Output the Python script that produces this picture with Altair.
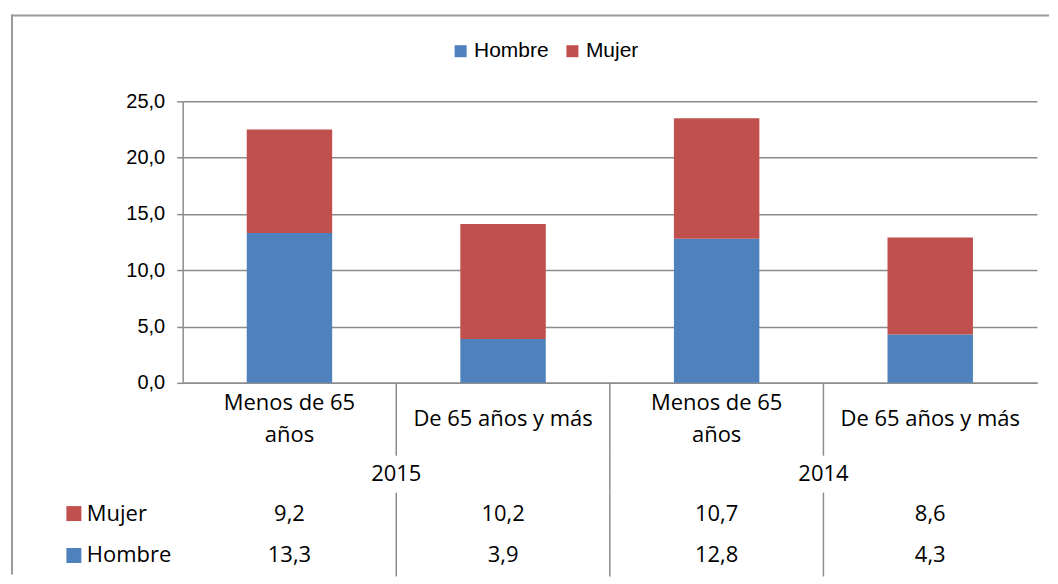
import altair as alt
import pandas as pd

# ---- data ----
years = ["2015", "2014"]
groups = ["Menos de 65\naños", "De 65 años y más"]
sexes = ["Hombre", "Mujer"]
table_rows = ["Mujer", "Hombre"]
hombre = [13.3, 3.9, 12.8, 4.3]
mujer = [9.2, 10.2, 10.7, 8.6]
colors = {"Hombre": "#4F81BD", "Mujer": "#C0504D"}
y_ticks = [0, 5, 10, 15, 20, 25]

cats = [f"{y}|{g}" for y in years for g in groups]
labels = [g for y in years for g in groups]

rows = []
for i, c in enumerate(cats):
    rows.append({"cat": c, "sexo": "Hombre", "valor": hombre[i]})
    rows.append({"cat": c, "sexo": "Mujer", "valor": mujer[i]})
df = pd.DataFrame(rows)
catdf = pd.DataFrame({"cat": cats, "label": labels})
sepdf = pd.DataFrame({"cat": cats[1:]})
yeardf = pd.DataFrame({"year": years})
yearsep = pd.DataFrame({"year": years[1:]})
legdf = pd.DataFrame({"sexo": table_rows})

# ---- style ----
W = 856
GRAY = "#8c8c8c"
FRAME = "#9a9a9a"
SANS = "Liberation Sans"
TFONT = "Open Sans"
TSIZE = 22
xscale = alt.Scale(domain=cats, paddingInner=0, paddingOuter=0)
yearscale = alt.Scale(domain=years, paddingInner=0, paddingOuter=0)
fmt = "replace(format(datum.value, '.1f'), '.', ',')"

# ---- chart A: stacked bars ----
bars = alt.Chart(df).mark_bar(width=alt.RelativeBandSize(0.4)).encode(
    x=alt.X("cat:N", scale=xscale,
            axis=alt.Axis(labels=False, ticks=False, title=None, grid=False,
                          domainColor=GRAY, domainWidth=1.5)),
    y=alt.Y("valor:Q", stack="zero",
            scale=alt.Scale(domain=[0, 25], nice=False),
            axis=alt.Axis(values=y_ticks, title=None, labelExpr=fmt,
                          tickSize=6, labelPadding=12, labelFont=SANS,
                          labelFontSize=20, labelColor="#000",
                          gridColor=GRAY, gridWidth=1.5, tickColor=GRAY,
                          tickWidth=1.5, domainColor=GRAY, domainWidth=1.5)),
    color=alt.Color("sexo:N",
                    scale=alt.Scale(domain=sexes, range=[colors[s] for s in sexes]),
                    legend=alt.Legend(orient="none", legendX=268, legendY=-61,
                                      direction="horizontal", title=None,
                                      symbolType="square", symbolSize=144,
                                      symbolStrokeWidth=0, labelFont=SANS,
                                      labelFontSize=21, labelColor="#000",
                                      labelOffset=3, columnPadding=13, padding=0)),
    order=alt.Order("sexo:N", sort="ascending"),
)

one = alt.Data(values=[{"k": 1}])
frame_top = alt.Chart(one).mark_rule(color=FRAME, strokeWidth=2).encode(
    x=alt.value(-172), x2=alt.value(868), y=alt.value(-86))
frame_left = alt.Chart(one).mark_rule(color=FRAME, strokeWidth=2).encode(
    x=alt.value(-171), y=alt.value(-87), y2=alt.value(474))

chart_a = alt.layer(bars, frame_top, frame_left).properties(width=W, height=282)

# ---- chart B: category labels ----
is_multi = "indexof(datum.label, '\\n') >= 0"
cat_text2 = alt.Chart(catdf).transform_filter(is_multi).mark_text(
    font=TFONT, fontSize=TSIZE, lineBreak="\n", lineHeight=32, dy=-16, color="#000"
).encode(x=alt.X("cat:N", scale=xscale, axis=None), text="label:N")
cat_text1 = alt.Chart(catdf).transform_filter("!(" + is_multi + ")").mark_text(
    font=TFONT, fontSize=TSIZE, color="#000"
).encode(x=alt.X("cat:N", scale=xscale, axis=None), text="label:N")
cat_sep = alt.Chart(sepdf).mark_rule(color=GRAY, strokeWidth=1.5).encode(
    x=alt.X("cat:N", scale=xscale, axis=None, bandPosition=0))
chart_b = alt.layer(cat_sep, cat_text2, cat_text1).properties(width=W, height=73)

# ---- chart C: years ----
year_text = alt.Chart(yeardf).mark_text(font=TFONT, fontSize=TSIZE, color="#000").encode(
    x=alt.X("year:N", scale=yearscale, axis=None), text="year:N")
year_sep = alt.Chart(yearsep).mark_rule(color=GRAY, strokeWidth=1.5).encode(
    x=alt.X("year:N", scale=yearscale, axis=None, bandPosition=0))
chart_c = alt.layer(year_sep, year_text).properties(width=W, height=37)

# ---- chart D: value table ----
rowscale = alt.Scale(domain=table_rows, paddingInner=0, paddingOuter=0)
val_text = alt.Chart(df).transform_calculate(
    txt="replace(format(datum.valor, '.1f'), '.', ',')"
).mark_text(font=TFONT, fontSize=TSIZE, color="#000").encode(
    x=alt.X("cat:N", scale=xscale, axis=None),
    y=alt.Y("sexo:N", scale=rowscale, axis=None),
    text="txt:N")
val_sep = alt.Chart(sepdf).mark_rule(color=GRAY, strokeWidth=1.5).encode(
    x=alt.X("cat:N", scale=xscale, axis=None, bandPosition=0))
val_leg = alt.Chart(legdf).mark_square(size=0, opacity=0).encode(
    color=alt.Color("sexo:N",
                    scale=alt.Scale(domain=table_rows, range=[colors[s] for s in table_rows]),
                    legend=alt.Legend(orient="none", legendX=-120, legendY=10,
                                      direction="vertical", title=None,
                                      symbolType="square", symbolSize=225,
                                      symbolOpacity=1, symbolStrokeWidth=0,
                                      labelFont=TFONT, labelFontSize=TSIZE,
                                      labelColor="#000", labelOffset=2,
                                      rowPadding=20, padding=0)))
chart_d = alt.layer(val_sep, val_text, val_leg).properties(width=W, height=84)

chart = alt.vconcat(chart_a, chart_b, chart_c, chart_d, spacing=0, bounds="flush").resolve_scale(
    x="independent", y="independent", color="independent"
).resolve_legend(color="independent").configure_view(strokeWidth=0).properties(
    padding={"left": 2, "top": 5, "right": 0, "bottom": 0},
    background="white",
)

chart.save("out.html", embed_options={"renderer": "svg", "actions": False})
